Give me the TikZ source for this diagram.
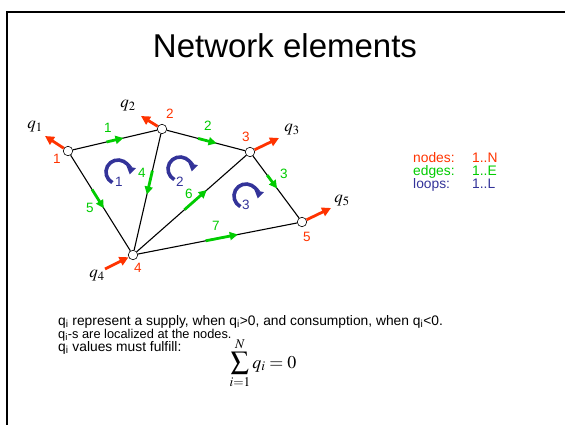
\documentclass[tikz,border=0pt]{standalone}
\usepackage{mathptmx}
\usepackage[no-math]{fontspec}
\setmainfont{Liberation Sans}
\usetikzlibrary{arrows.meta,calc}
\definecolor{nodered}{HTML}{FF3300}
\definecolor{edgegreen}{HTML}{00CC00}
\definecolor{loopblue}{HTML}{333399}

\begin{document}
\begin{tikzpicture}[x=1pt,y=-1pt,
 junction/.style={circle,draw=black,fill=white,line width=.6pt,inner sep=0pt,minimum size=9.5pt},
 pipe/.style={black,line width=1.1pt},
 flow/.style={-{Triangle[length=8pt,width=8pt]},edgegreen,line width=2.8pt},
 supply/.style={-{Triangle[length=9pt,width=9pt]},nodered,line width=2.8pt},
 mesh/.style={-{Triangle[length=7.5pt,width=9pt]},loopblue,line width=3.6pt},
 num/.style={font=\fontsize{13.5}{13.5}\selectfont,inner sep=0pt},
 qlab/.style={font=\fontsize{17}{17}\selectfont,inner sep=0pt},
 body/.style={font=\fontsize{13.8}{13}\selectfont,anchor=base west,inner sep=0pt}]
 \useasboundingbox (0,0) rectangle (565,425);
 \draw[line width=2pt] (7,425) -- (7,12) -- (565,12);
 \node[font=\fontsize{33}{33}\selectfont,anchor=base,inner sep=0pt] (title) at (285,58) {Network elements};
 % network nodes
 \node[junction] (n1) at (68,151) {}; \node[junction] (n2) at (162,129) {};
 \node[junction] (n3) at (250,152) {}; \node[junction] (n4) at (133,255) {};
 \node[junction] (n5) at (302,222) {};
 \draw[pipe] (n1) -- (n2); \draw[pipe] (n2) -- (n3); \draw[pipe] (n3) -- (n5); \draw[pipe] (n2) -- (n4);
 \draw[pipe] (n1) -- (n4); \draw[pipe] (n4) -- (n3); \draw[pipe] (n4) -- (n5);
 % edge directions
 \draw[flow] ($(n1)!.41!(n2)$) -- ($(n1)!.59!(n2)$); \draw[flow] ($(n2)!.41!(n3)$) -- ($(n2)!.62!(n3)$);
 \draw[flow] ($(n3)!.33!(n5)$) -- ($(n3)!.52!(n5)$); \draw[flow] ($(n2)!.33!(n4)$) -- ($(n2)!.52!(n4)$);
 \draw[flow] ($(n1)!.37!(n4)$) -- ($(n1)!.55!(n4)$); \draw[flow] ($(n4)!.44!(n3)$) -- ($(n4)!.63!(n3)$);
 \draw[flow] ($(n4)!.43!(n5)$) -- ($(n4)!.62!(n5)$);
 \node[num,text=edgegreen] (e1) at (108,128) {1}; \node[num,text=edgegreen] (e2) at (208,126) {2};
 \node[num,text=edgegreen] (e3) at (284,174) {3}; \node[num,text=edgegreen] (e4) at (142,173) {4};
 \node[num,text=edgegreen] (e5) at (90,208) {5}; \node[num,text=edgegreen] (e6) at (189,194) {6};
 \node[num,text=edgegreen] (e7) at (216,226) {7};
 % supplies
 \coordinate (t1) at (45,136); \coordinate (t2) at (141,116); \coordinate (t3) at (279,138);
 \coordinate (t4) at (105,269); \coordinate (t5) at (331,208);
 \draw[supply] (n1) -- (t1); \draw[supply] (n2) -- (t2); \draw[supply] (n3) -- (t3);
 \draw[supply] (t4) -- (n4); \draw[supply] (n5) -- (t5);
 \node[qlab] (q1) at (35,127) {$q_1$}; \node[qlab] (q2) at (128,106) {$q_2$};
 \node[qlab] (q3) at (292,130) {$q_3$}; \node[qlab] (q4) at (97,276) {$q_4$};
 \node[qlab] (q5) at (342,201) {$q_5$};
 \node[num,text=nodered] (l1) at (57,159) {1}; \node[num,text=nodered] (l2) at (170,114) {2};
 \node[num,text=nodered] (l3) at (246,137) {3}; \node[num,text=nodered] (l4) at (138,268) {4};
 \node[num,text=nodered] (l5) at (307,237) {5};
 % loops
 \coordinate (c1) at (118,172); \coordinate (c2) at (180,169); \coordinate (c3) at (246,196);
 \draw[mesh] ([shift={(118:12)}]c1) arc[start angle=118,end angle=372,radius=12];
 \draw[mesh] ([shift={(118:12)}]c2) arc[start angle=118,end angle=372,radius=12];
 \draw[mesh] ([shift={(118:12)}]c3) arc[start angle=118,end angle=372,radius=12];
 \node[num,text=loopblue] (m1) at (119,182) {1}; \node[num,text=loopblue] (m2) at (180,182) {2};
 \node[num,text=loopblue] (m3) at (246,205) {3};
 % legend
 \node[body,text=nodered] (kn) at (413,162.5) {nodes:}; \node[body,text=nodered] (vn) at (472,162.5) {1..N};
 \node[body,text=edgegreen] (ke) at (413,175.5) {edges:}; \node[body,text=edgegreen] (ve) at (472,175.5) {1..E};
 \node[body,text=loopblue] (kl) at (413,188.5) {loops:}; \node[body,text=loopblue] (vl) at (472,188.5) {1..L};
 % text
 \node[body] (s1) at (58,325) {q\textsubscript{i} represent a supply, when q\textsubscript{i}>0, and consumption, when q\textsubscript{i}<0.};
 \node[body,font=\fontsize{12.8}{13}\selectfont] (s2) at (58,338) {q\textsubscript{i}-s are localized at the nodes.};
 \node[body] (s3) at (58,351) {q\textsubscript{i} values must fulfill:};
 \node[font=\fontsize{18}{18}\selectfont,anchor=base,inner sep=0pt] (sum) at (263,368) {$\displaystyle\sum_{i=1}^{N} q_i = 0$};
\end{tikzpicture}
\end{document}
